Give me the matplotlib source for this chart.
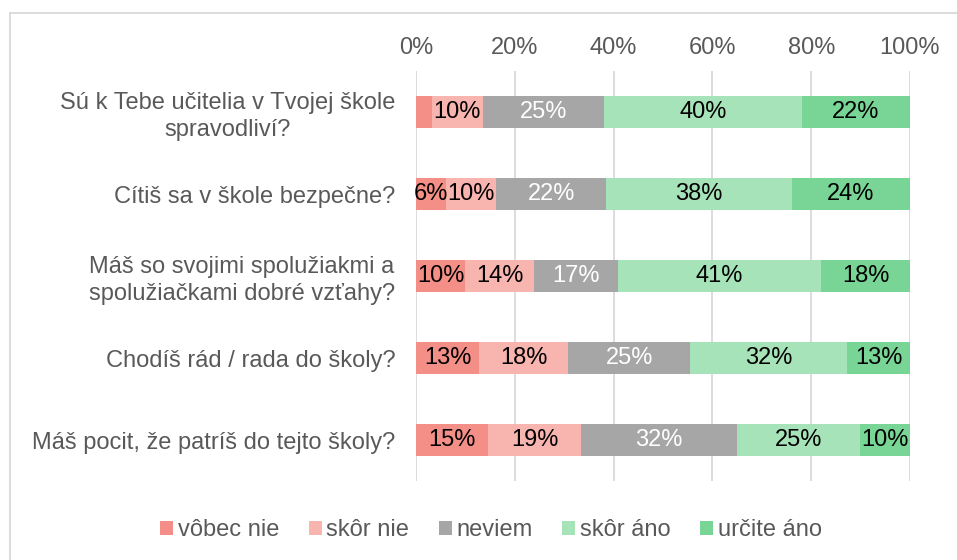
import matplotlib
matplotlib.use("Agg")
import matplotlib.pyplot as plt
from matplotlib.lines import Line2D
from matplotlib.patches import Patch

plt.rcParams['font.family'] = ['Liberation Sans', 'DejaVu Sans']

categories = [
    "Sú k Tebe učitelia v Tvojej škole\nspravodliví?",
    "Cítiš sa v škole bezpečne?",
    "Máš so svojimi spolužiakmi a\nspolužiačkami dobré vzťahy?",
    "Chodíš rád / rada do školy?",
    "Máš pocit, že patríš do tejto školy?",
]
series_names = ["vôbec nie", "skôr nie", "neviem", "skôr áno", "určite áno"]
vobec_nie = [3.2, 6.0, 10.0, 12.8, 14.6]
skor_nie = [10.3, 10.2, 13.8, 18.0, 18.8]
neviem = [24.6, 22.3, 17.0, 24.7, 31.6]
skor_ano = [40.0, 37.6, 41.2, 31.8, 24.9]
urcite_ano = [21.9, 23.9, 18.0, 12.7, 10.1]
show_label = [
    [False, True, True, True, True],
    [True, True, True, True, True],
    [True, True, True, True, True],
    [True, True, True, True, True],
    [True, True, True, True, True],
]
xticks = [0, 20, 40, 60, 80, 100]
xtick_labels = ["0%", "20%", "40%", "60%", "80%", "100%"]

colors = ["#F48F88", "#F8B4AF", "#A6A6A6", "#A7E3B8", "#78D595"]
label_colors = ["black", "black", "white", "black", "black"]

FS = 17

fig = plt.figure(figsize=(9.57, 5.6), dpi=100)
ax = fig.add_axes([416/957, 1-481/560, (910-416)/957, (481-71)/560])

series = [vobec_nie, skor_nie, neviem, skor_ano, urcite_ano]
ypos = list(range(len(categories)))
left = [0.0]*len(categories)
for si, vals in enumerate(series):
    bars = ax.barh(ypos, vals, left=left, height=0.4, color=colors[si],
                   edgecolor='none', zorder=3, label=series_names[si])
    for ci, (b, v) in enumerate(zip(bars, vals)):
        if show_label[ci][si]:
            ax.text(left[ci] + v/2, ci, f"{round(v):d}%", ha='center', va='center',
                    fontsize=FS, color=label_colors[si], zorder=4)
    left = [l + v for l, v in zip(left, vals)]

ax.set_xlim(0, 100)
ax.set_ylim(len(categories)-0.5, -0.5)
ax.set_yticks(ypos)
ax.set_yticklabels(categories, fontsize=FS, color='#595959', multialignment='center',
                   linespacing=1.25)
ax.set_xticks(xticks)
ax.set_xticklabels(xtick_labels, fontsize=FS, color='#595959')
ax.xaxis.tick_top()
ax.tick_params(axis='x', length=0, pad=9)
ax.tick_params(axis='y', length=0, pad=15)
ax.grid(axis='x', color='#D9D9D9', linewidth=1.3, zorder=0)
for s in ax.spines.values():
    s.set_visible(False)

handles = [Patch(facecolor=c, edgecolor='none') for c in colors]
leg = fig.legend(handles, series_names, loc='center', bbox_to_anchor=(491/957, 1-530/560),
                 ncol=5, frameon=False, fontsize=FS, handlelength=0.55, handleheight=0.55,
                 handletextpad=0.2, columnspacing=1.25, labelcolor='#595959')

# chart border
fig.add_artist(Line2D([10/957, 1], [1-13/560, 1-13/560], color='#D9D9D9', lw=1.3,
                      transform=fig.transFigure))
fig.add_artist(Line2D([10/957, 10/957], [0, 1-13/560], color='#D9D9D9', lw=1.3,
                      transform=fig.transFigure))

fig.savefig("out.png", dpi=100)
